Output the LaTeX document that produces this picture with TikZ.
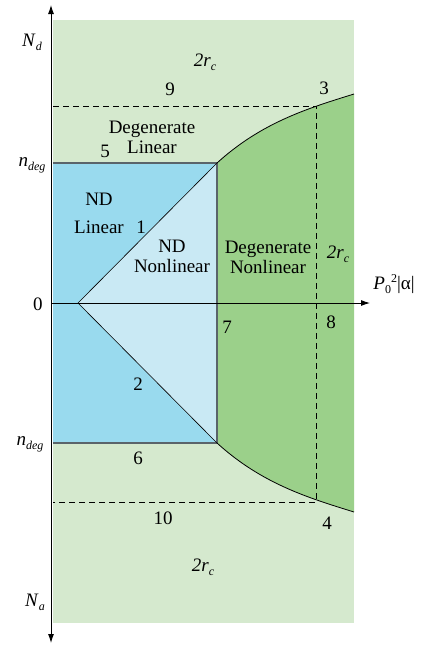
\documentclass[tikz,border=0pt]{standalone}
\usepackage{fontspec}
\setmainfont{Liberation Serif}
\usetikzlibrary{arrows.meta}

\definecolor{pale}{HTML}{D5E9CE}
\definecolor{deepgreen}{HTML}{9BD08A}
\definecolor{ndblue}{HTML}{99DAEE}
\definecolor{ndpale}{HTML}{C9E9F4}
\definecolor{edge}{HTML}{5A646A}

\newcommand{\lo}[1]{\raisebox{-0.45ex}{\fontsize{12}{12}\selectfont #1}}
\newcommand{\hi}[1]{\raisebox{0.75ex}{\fontsize{12}{12}\selectfont #1}}

\tikzset{
  txt/.style={font=\rmfamily\fontsize{19}{22}\selectfont, inner sep=0pt, align=center},
  ax/.style={line width=0.9pt, -{Latex[length=9pt,width=6pt]}},
  dash line/.style={dashed, dash pattern=on 6pt off 4pt, line width=0.8pt}
}

\begin{document}
\begin{tikzpicture}[x=1pt, y=-1pt]%diagramme des regimes
	\useasboundingbox (0,0) rectangle (424,649);

	% points of the regions
	\coordinate (apex) at (78,303);
	\coordinate (tl) at (217,163);
	\coordinate (bl) at (217,443);
	\coordinate (tr) at (354,94);
	\coordinate (br) at (354,512);

	\fill[pale] (53,20) rectangle (354,623);
	\fill[deepgreen] (tl) .. controls (262,122) and (309,108) .. (tr)
		-- (br) .. controls (309,498) and (262,484) .. (bl) -- cycle;
	\fill[ndblue] (53,163) rectangle (bl);
	\fill[ndpale] (apex) -- (tl) -- (bl) -- cycle;
	\draw[edge, line width=1.4pt] (53,163) -- (tl) -- (bl) -- (53,443);
	\draw[line width=0.6pt] (tl) -- (apex) -- (bl);
	\draw[line width=0.8pt] (tl) .. controls (262,122) and (309,108) .. (tr);
	\draw[line width=0.8pt] (bl) .. controls (262,484) and (309,498) .. (br);

	% dashed limits
	\draw[dash line] (53,106) -- (316,106) -- (316,502) -- (53,502);

	% axes
	\draw[ax] (51,303) -- (370,303);
	\draw[ax, {Latex[length=9pt,width=6pt]}-{Latex[length=9pt,width=6pt]}] (51,643) -- (51,5);

	% labels
	\node[txt] (nd) at (32,42) {\textit{N}\lo{\textit{d}}};
	\node[txt] (na) at (35,602) {\textit{N}\lo{\textit{a}}};
	\node[txt] (ntop) at (32,165) {\textit{n}\lo{\textit{deg}}};
	\node[txt] (nbot) at (30,444) {\textit{n}\lo{\textit{deg}}};
	\node[txt] (zero) at (38,304) {0};
	\node[txt] (pax) at (394,284) {\textit{P}\lo{0}\hi{2}|α|};

	\node[txt] (rctop) at (205,62) {\textit{2r}\lo{\textit{c}}};
	\node[txt] (rcright) at (338,254) {\textit{2r}\lo{\textit{c}}};
	\node[txt] (rcbot) at (203,567) {\textit{2r}\lo{\textit{c}}};

	\node[txt] (deglin) at (152,137) {Degenerate\\[-2pt]Linear};
	\node[txt] (ndlin) at (99,213) {ND\\[6pt]Linear};
	\node[txt] (ndnonlin) at (172,256) {ND\\[-2pt]Nonlinear};
	\node[txt] (degnonlin) at (268,257) {Degenerate\\[-2pt]Nonlinear};

	\node[txt] (one) at (141,227) {1};
	\node[txt] (two) at (138,384) {2};
	\node[txt] (three) at (324,88) {3};
	\node[txt] (four) at (327,523) {4};
	\node[txt] (five) at (105,151) {5};
	\node[txt] (six) at (138,458) {6};
	\node[txt] (seven) at (227,327) {7};
	\node[txt] (eight) at (331,322) {8};
	\node[txt] (nine) at (170,89) {9};
	\node[txt] (ten) at (163,518) {10};
\end{tikzpicture}
\end{document}
